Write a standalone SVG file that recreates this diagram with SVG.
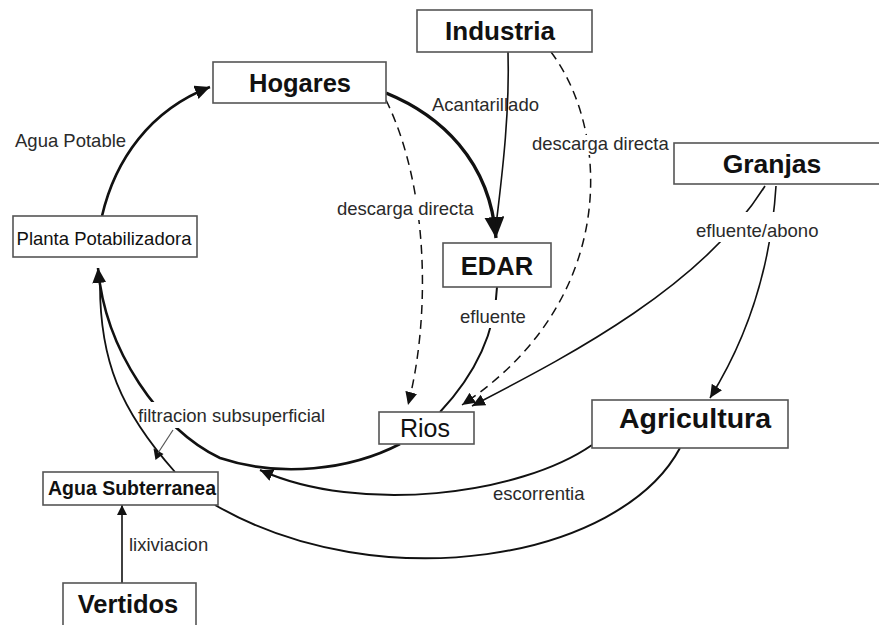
<svg xmlns="http://www.w3.org/2000/svg" width="879" height="625" viewBox="0 0 879 625">
<style>
.box{fill:#fff;stroke:#555;stroke-width:1.6}
.nb{font-family:"Liberation Sans",Arial,sans-serif;font-weight:bold;fill:#111;text-anchor:middle}
.nr{font-family:"Liberation Sans",Arial,sans-serif;fill:#111;text-anchor:middle}
.lbl{font-family:"Liberation Sans",Arial,sans-serif;font-size:18.5px;fill:#2a2a2a}
.c{fill:none;stroke:#111}
.thick{stroke-width:2.6}
.thin{stroke-width:1.6}
.dash{stroke-width:1.5;stroke-dasharray:9 6}
.bg{fill:#fff}
</style>
<defs>
<marker id="arr" markerUnits="userSpaceOnUse" markerWidth="16" markerHeight="14" refX="15" refY="7" orient="auto">
<path d="M0,0 L15,7 L0,14 z" fill="#111"/>
</marker>
<marker id="arrS" markerUnits="userSpaceOnUse" markerWidth="14" markerHeight="12" refX="13" refY="6" orient="auto">
<path d="M0,0 L13,6 L0,12 z" fill="#111"/>
</marker>
<marker id="arrB" markerUnits="userSpaceOnUse" markerWidth="22" markerHeight="20" refX="21" refY="10" orient="auto">
<path d="M0,0 L21,10 L0,20 z" fill="#111"/>
</marker>
<marker id="arrT" markerUnits="userSpaceOnUse" markerWidth="11" markerHeight="10" refX="10" refY="5" orient="auto">
<path d="M0,0 L10,5 L0,10 z" fill="#111"/>
</marker>
</defs>
<rect width="879" height="625" fill="#fff"/>

<g id="connectors">
<path class="c thick" d="M102,216 C115,160 150,110 210,87" marker-end="url(#arr)"/>
<path class="c" style="stroke-width:3.4" d="M386,93 C440,115 490,160 496,238" marker-end="url(#arrB)"/>
<path class="c thin" d="M508,52 C510,120 500,190 496,226"/>
<path class="c dash" d="M386,100 C430,190 430,320 408,405" marker-end="url(#arrS)"/>
<path class="c dash" d="M551,52 C610,130 620,300 462,405" marker-end="url(#arrS)"/>
<path class="c thin" style="stroke-width:2" d="M497,287 C495,340 470,380 440,412"/>
<path class="c thin" d="M765,186 C700,290 560,360 472,406" marker-end="url(#arrS)"/>
<path class="c thin" d="M776,186 C770,280 740,350 710,398" marker-end="url(#arrS)"/>
<path class="c thick" d="M400,444 C350,470 280,478 220,458 C160,430 105,350 98,268" marker-end="url(#arr)"/>
<rect class="bg" x="139" y="402" width="191" height="26"/>
<path class="c" style="stroke-width:1.8" d="M175,472 C120,410 100,360 100,285"/>
<polygon points="153.5,448.6 163.5,454 155.5,460" fill="#111"/>
<path class="c" style="stroke:#555;stroke-width:1.2" d="M158,453 L173,430"/>
<path class="c" style="stroke-width:2" d="M592,445 C520,495 360,515 260,470" marker-end="url(#arrS)"/>
<path class="c" style="stroke-width:2" d="M680,448 C620,560 380,600 215,505"/>
<path class="c thin" d="M122,583 L122,505" marker-end="url(#arrT)"/>

<text class="lbl" x="15" y="147">Agua Potable</text>
<text class="lbl" x="432" y="111">Acantarillado</text>
<rect class="bg" x="530" y="135" width="134" height="20"/>
<text class="lbl" x="532" y="150">descarga directa</text>
<rect class="bg" x="335" y="200" width="134" height="20"/>
<text class="lbl" x="337" y="215">descarga directa</text>
<rect class="bg" x="694" y="212" width="128" height="30"/>
<text class="lbl" x="696" y="237">efluente/abono</text>
<rect class="bg" x="458" y="300" width="66" height="28"/>
<text class="lbl" x="460" y="323">efluente</text>
<text class="lbl" x="138" y="422">filtracion subsuperficial</text>
<text class="lbl" x="493" y="500">escorrentia</text>
<text class="lbl" x="129" y="551">lixiviacion</text>
</g>

<g id="hogares"><rect class="box" x="213" y="62" width="173" height="41"/><text class="nb" x="300" y="92" font-size="25.5">Hogares</text></g>
<g id="industria"><rect class="box" x="417" y="10" width="175" height="42"/><text class="nb" x="500" y="40" font-size="26">Industria</text></g>
<g id="granjas"><rect class="box" x="674" y="143" width="220" height="41"/><text class="nb" x="772" y="173" font-size="26.5">Granjas</text></g>
<g id="edar"><rect class="box" x="443" y="243" width="108" height="44"/><text class="nb" x="497" y="275" font-size="25.5">EDAR</text></g>
<g id="planta"><rect class="box" x="13" y="216" width="184" height="41"/><text class="nr" x="104" y="245" font-size="18.5">Planta Potabilizadora</text></g>
<g id="rios"><rect class="box" x="379" y="412" width="95" height="32"/><text class="nr" x="425" y="437" font-size="25">Rios</text></g>
<g id="agricultura"><rect class="box" x="592" y="400" width="196" height="48"/><text class="nb" x="695" y="428" font-size="28.5">Agricultura</text></g>
<g id="agua-subterranea"><rect class="box" x="43" y="472" width="175" height="33"/><text class="nb" x="132" y="495" font-size="19.5">Agua Subterranea</text></g>
<g id="vertidos"><rect class="box" x="63" y="583" width="133" height="50"/><text class="nb" x="128" y="613" font-size="25.5">Vertidos</text></g>
</svg>
